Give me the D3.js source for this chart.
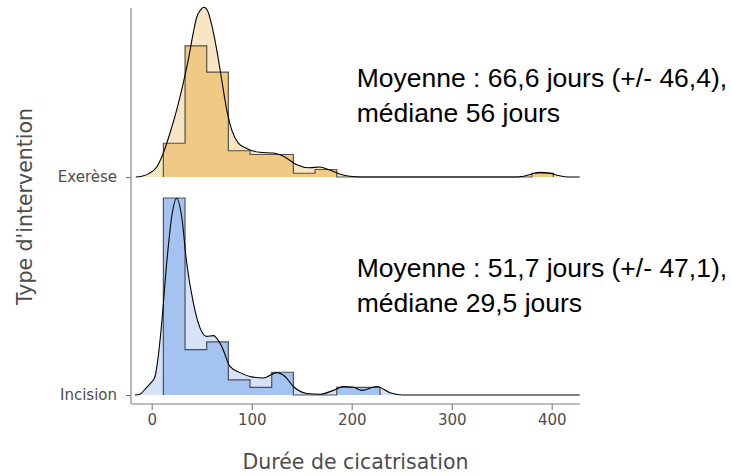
<!DOCTYPE html>
<html lang="fr">
<head>
    <meta charset="UTF-8">
    <title>Durée de cicatrisation</title>
    <script src="https://d3js.org/d3.v7.min.js"></script>
    <style>
        body { margin: 0; background: #fff; }
        .axis text { font-family: "DejaVu Sans", sans-serif; fill: #4d4d4d; }
        .axis path, .axis line { stroke: #7a7a7a; stroke-width: 1.1; }
        .title { font-family: "DejaVu Sans", sans-serif; fill: #4d4d4d; font-size: 20.5px; }
        .note { font-family: "Liberation Sans", Arial, sans-serif; font-size: 26.5px; fill: #000; }
    </style>
</head>
<body>
    <div id="plot"></div>

    <script>
        function translate(x, y){
            return 'translate(' + x + ', ' + y + ')';
        }

        // categories (bottom to top)
        let groups = ['Incision', 'Exerèse'];

        // histogram bins (days)
        let binStart = 11.67;
        let binWidth = 21.67;
        let countsIncision = [26, 6, 7, 2, 1, 3, 0, 0, 1, 1];
        let countsExerese = [9, 35, 28, 7, 6, 6, 1, 2, 0, 0, 0, 0, 0, 0, 0, 0, 0, 1];

        // density curves: [days, density]
        let densIncision = [
            [-16.7, 0], [-12, 0.0001], [-5, 0.0010], [0, 0.0017], [3.3, 0.0024], [7, 0.0055],
            [10, 0.0093], [15, 0.0171], [20, 0.0231], [25, 0.0255], [30, 0.0231], [35, 0.0171],
            [41.7, 0.0119], [48.3, 0.0087], [55, 0.0076], [61.7, 0.0077], [70, 0.0063],
            [78.3, 0.0037], [88.3, 0.0029], [98.3, 0.0024], [111.7, 0.0022], [125, 0.0029],
            [133.3, 0.0024], [141.7, 0.0011], [155, 0.0002], [168.3, 0.0001], [181.7, 0.0006],
            [191.7, 0.0011], [201.7, 0.0010], [210, 0.0006], [225, 0.0011], [238.3, 0.0003],
            [251.7, 0], [428, 0]
        ];
        let densExerese = [
            [-16, 0], [-10, 0.0001], [-2, 0.0005], [5, 0.0013], [11.6, 0.0031], [18.3, 0.0057],
            [25, 0.0087], [31.6, 0.0122], [36.6, 0.0152], [41.6, 0.0187], [45, 0.0207],
            [48.5, 0.0216], [52.3, 0.0220], [56, 0.0215], [60, 0.0197], [65, 0.0165],
            [70, 0.0126], [75, 0.0087], [80, 0.0061], [86.6, 0.0044], [95, 0.0037],
            [108, 0.0032], [122, 0.0031], [133, 0.0026], [145, 0.0016], [158, 0.0012],
            [168, 0.0013], [178, 0.0009], [188, 0.0004], [198, 0.0001], [210, 0],
            [364, 0], [372, 0.0001], [380, 0.0004], [388, 0.0006], [398, 0.0005],
            [407, 0.0002], [416, 0], [428, 0]
        ];

        let xTicks = [0, 100, 200, 300, 400];

        let notesIncision = ['Moyenne : 51,7 jours (+/- 47,1),', 'médiane 29,5 jours'];
        let notesExerese = ['Moyenne : 66,6 jours (+/- 46,4),', 'médiane 56 jours'];

        let series = [
            {name: 'Incision', counts: countsIncision, dens: densIncision, notes: notesIncision,
             light: '#d5e2f7', dark: '#a5c3f0', noteTop: -118},
            {name: 'Exerèse', counts: countsExerese, dens: densExerese, notes: notesExerese,
             light: '#f8e5c3', dark: '#f0ca84', noteTop: -90}
        ];

        series.forEach(function(s){
            let n = d3.sum(s.counts);
            s.hist = s.counts.map(function(c, i){
                return {x0: binStart + i * binWidth, x1: binStart + (i + 1) * binWidth, d: c / (n * binWidth)};
            });
        });

        let svgWidth = 731;
        let svgHeight = 476;
        let margin = {top: 8, right: 151, bottom: 72, left: 131};
        let width = svgWidth - margin.left - margin.right;
        let height = svgHeight - margin.top - margin.bottom;

        let svg = d3.select('#plot')
                    .append('svg')
                        .attr('width', svgWidth)
                        .attr('height', svgHeight)
                        .append('g')
                            .attr('transform', translate(margin.left, margin.top));

        let x = d3.scaleLinear()
                    .domain([-20.7, 428.3])
                    .range([0, width]);

        let y = d3.scalePoint()
                    .domain(groups)
                    .range([height - 9, height - 227]);

        let maxDens = d3.max(series, s => Math.max(d3.max(s.hist, b => b.d), d3.max(s.dens, p => p[1])));
        let h = d3.scaleLinear()
                    .domain([0, maxDens])
                    .range([0, 197]);

        series.forEach(function(s){
            let base = y(s.name);
            let g = svg.append('g');

            // density fill (light)
            let densArea = d3.area()
                .x(p => x(p[0]))
                .y0(base)
                .y1(p => base - h(p[1]))
                .curve(d3.curveMonotoneX);
            g.append('path')
                .datum(s.dens)
                .attr('d', densArea)
                .attr('fill', s.light);

            // histogram steps
            let steps = [[s.hist[0].x0, 0]];
            s.hist.forEach(function(b){
                steps.push([b.x0, b.d]);
                steps.push([b.x1, b.d]);
            });
            steps.push([s.hist[s.hist.length - 1].x1, 0]);

            g.append('path')
                .datum(steps)
                .attr('d', d3.area().x(p => x(p[0])).y0(base).y1(p => base - h(p[1])))
                .attr('fill', s.dark);
            g.append('path')
                .datum(steps)
                .attr('d', d3.line().x(p => x(p[0])).y(p => base - h(p[1])))
                .attr('fill', 'none')
                .attr('stroke', '#3a3a3a')
                .attr('stroke-opacity', 0.85)
                .attr('stroke-width', 1.2);

            // density outline
            g.append('path')
                .datum(s.dens)
                .attr('d', d3.line().x(p => x(p[0])).y(p => base - h(p[1])).curve(d3.curveMonotoneX))
                .attr('fill', 'none')
                .attr('stroke', '#000')
                .attr('stroke-width', 1.1);

            // annotation
            svg.append('text')
                .attr('class', 'note')
                .selectAll('tspan')
                .data(s.notes)
                .join('tspan')
                    .attr('x', x(205))
                    .attr('y', (d, i) => base + s.noteTop + i * 35)
                    .text(d => d);
        });

        let xAxis = d3.axisBottom(x).tickValues(xTicks).tickSize(6).tickPadding(4);
        let yAxis = d3.axisLeft(y).tickSize(5).tickPadding(9);

        let gx = svg.append('g')
            .attr('class', 'axis')
            .attr('transform', translate(0, height))
            .call(xAxis);
        gx.select('.domain').attr('d', 'M0.5,0H' + width);
        gx.selectAll('text').style('font-size', '15px');

        let gy = svg.append('g')
            .attr('class', 'axis')
            .call(yAxis);
        gy.select('.domain').attr('d', 'M0,0V' + height);
        gy.selectAll('text').style('font-size', '15px');

        svg.append('text')
            .attr('class', 'title')
            .attr('text-anchor', 'middle')
            .attr('x', width / 2)
            .attr('y', height + 65)
            .text('Durée de cicatrisation');

        svg.append('text')
            .attr('class', 'title')
            .attr('text-anchor', 'middle')
            .attr('transform', translate(-99.5, 198.5) + ' rotate(-90)')
            .text("Type d'intervention");
    </script>
</body>
</html>
